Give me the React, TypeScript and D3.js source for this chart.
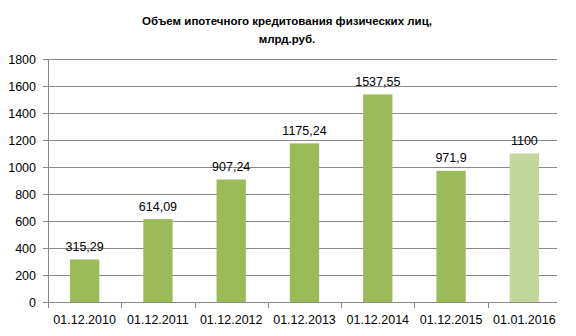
import React from "react";
import * as d3 from "d3";

const categories = ["01.12.2010", "01.12.2011", "01.12.2012", "01.12.2013", "01.12.2014", "01.12.2015", "01.01.2016"];
const values = [315.29, 614.09, 907.24, 1175.24, 1537.55, 971.9, 1100];
const valueLabels = ["315,29", "614,09", "907,24", "1175,24", "1537,55", "971,9", "1100"];
const yTicks = [0, 200, 400, 600, 800, 1000, 1200, 1400, 1600, 1800];
const titleLines = ["Объем ипотечного кредитования физических лиц,", "млрд.руб."];

const W = 576, H = 336;
const left = 48, right = 561, gridRight = 557, top = 59, bottom = 302;
const font = "'Liberation Sans', Arial, sans-serif";
const grey = "#888888";

export default function App() {
  const x = d3.scaleBand<string>().domain(categories).range([left, right]).paddingInner(0.6).paddingOuter(0.3);
  const y = d3.scaleLinear().domain([0, 1800]).range([bottom, top]);
  const step = x.step();
  const boundaries = d3.range(categories.length + 1).map((i) => left + i * step).filter((v) => v <= gridRight + 1);

  return (
    <svg width={W} height={H} style={{ position: "absolute", left: 0, top: 0, background: "#fff" }}>
      {titleLines.map((t, i) => (
        <text key={t} x={287} y={25 + i * 18} textAnchor="middle" fontFamily={font} fontWeight="bold" fontSize={11.5} fill="#000">
          {t}
        </text>
      ))}
      {yTicks.map((t) => (
        <g key={t}>
          <line x1={43} x2={t === 0 ? gridRight : gridRight} y1={Math.round(y(t)) + 0.5} y2={Math.round(y(t)) + 0.5} stroke={grey} strokeWidth={1} />
          <text x={36} y={y(t) + 4.5} textAnchor="end" fontFamily={font} fontSize={12.5} fill="#000">
            {t}
          </text>
        </g>
      ))}
      <line x1={left + 0.5} x2={left + 0.5} y1={top} y2={bottom + 1} stroke={grey} />
      {boundaries.map((b, i) => (
        <line key={i} x1={Math.round(b) + 0.5} x2={Math.round(b) + 0.5} y1={bottom} y2={bottom + 6} stroke={grey} />
      ))}
      {categories.map((c, i) => (
        <g key={c}>
          <rect
            x={x(c)!}
            y={y(values[i])}
            width={x.bandwidth()}
            height={bottom - y(values[i])}
            fill={i === categories.length - 1 ? "#C3D69B" : "#9BBB59"}
          />
          <text x={x(c)! + x.bandwidth() / 2} y={y(values[i]) - 8.5} textAnchor="middle" fontFamily={font} fontSize={12.5} fill="#000">
            {valueLabels[i]}
          </text>
          <text x={x(c)! + x.bandwidth() / 2} y={323.5} textAnchor="middle" fontFamily={font} fontSize={12.5} fill="#000">
            {c}
          </text>
        </g>
      ))}
    </svg>
  );
}
